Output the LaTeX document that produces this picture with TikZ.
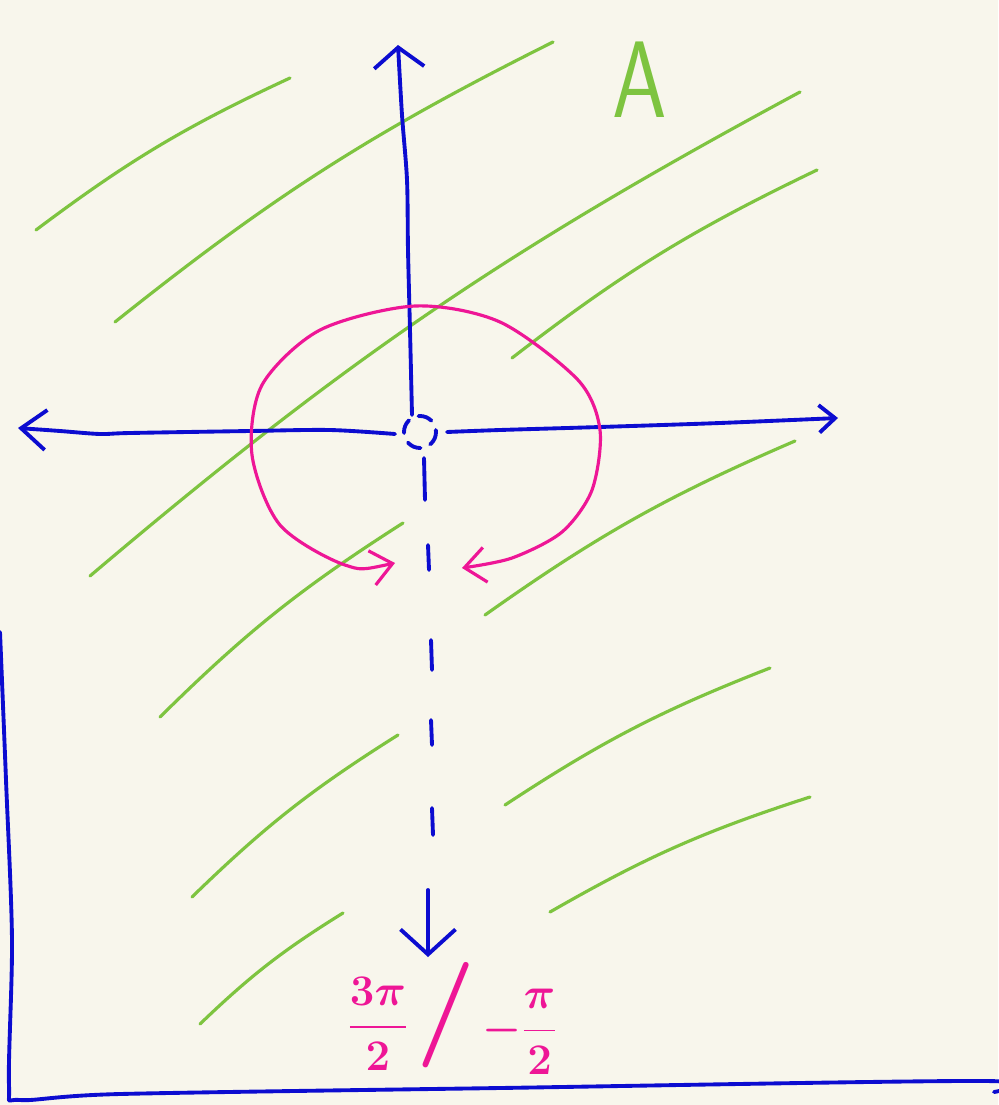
\documentclass[tikz,border=0pt]{standalone}
\usepackage{amsmath}
\usetikzlibrary{arrows.meta}
\definecolor{paper}{RGB}{248,246,236}
\definecolor{axisblue}{RGB}{12,12,208}
\definecolor{hatchgreen}{RGB}{126,196,64}
\definecolor{anglepink}{RGB}{238,22,150}

\begin{document}
\begin{tikzpicture}[x=0.02cm, y=-0.02cm,
  inkline/.style={line cap=round, line join=round},
  axisline/.style={inkline, axisblue, line width=2.2pt},
  hatchline/.style={inkline, hatchgreen, line width=1.8pt},
  turnline/.style={inkline, anglepink, line width=1.8pt},
  label/.style={anglepink, font=\fontsize{31}{36}\selectfont\boldmath},
]
  \fill[paper] (0,0) rectangle (998,1105);
  \useasboundingbox (0,0) rectangle (998,1105);

  % shaded region A
  \foreach \xa/\ya/\xb/\yb in {36/230/290/78, 115/322/553/42, 90/576/800/92,
      512/358/817/170, 485/615/795/441, 160/717/403/523, 192/897/398/735,
      505/805/770/668, 550/912/810/797, 200/1024/343/913}
    \draw[hatchline] (\xa,\ya) to[bend left=6] (\xb,\yb);
  \node[hatchgreen, font=\fontsize{62}{62}\selectfont\sffamily, xscale=0.8] (regionA) at (640,80) {A};

  \coordinate (origin) at (420,432);
  \coordinate (ytop) at (398,45);
  \coordinate (xleft) at (18,428);
  \coordinate (xright) at (838,418);
  \coordinate (ydown) at (428,957);
  \coordinate (turnstart) at (395,563);
  \coordinate (turnend) at (462,568);

  % axes
  \draw[axisline, -{Straight Barb[length=0.4cm,width=1.0cm]}] plot[smooth] coordinates
    {(412,415) (410,330) (408,250) (407,180) (402,115) (ytop)};
  \draw[axisline, {Straight Barb[length=0.5cm,width=0.8cm]}-] plot[smooth] coordinates
    {(xleft) (60,431) (100,434) (130,433) (250,431) (330,430) (395,434)};
  \draw[axisline, -{Straight Barb[length=0.32cm,width=0.55cm]}] plot[smooth] coordinates
    {(447,432) (500,430) (600,427) (720,423) (xright)};
  \draw[axisline, dash pattern=on 8pt off 6pt] (origin) circle[radius=16];
  \foreach \x/\ya/\yb in {424/458/500, 428/545/570, 431/640/670, 431/720/745, 432/808/835}
    \draw[axisline] (\x,\ya) -- (\x+1,\yb);
  \draw[axisline, -{Straight Barb[length=0.5cm,width=1.1cm]}] (428,890) -- (ydown);

  % frame
  \draw[axisline] plot[smooth] coordinates
    {(0,632) (6,780) (12,940) (9,1085) (20,1100) (120,1094) (500,1088) (985,1081) (994,1092)};

  % rotation
  \draw[turnline, {Straight Barb[length=0.42cm,width=0.7cm]}-{Straight Barb[length=0.42cm,width=0.7cm]}]
    plot[smooth] coordinates {(turnstart) (345,565) (280,525) (252,455) (262,385) (320,330)
      (415,306) (500,322) (578,380) (600,430) (592,490) (562,532) (512,558) (turnend)};

  \node[label] (threehalves) at (378,1024) {$\dfrac{3\pi}{2}$};
  \node[anglepink, font=\fontsize{60}{60}\selectfont\bfseries] (slash) at (446,1015) {/};
  \node[label] (neghalf) at (520,1032) {$-\dfrac{\pi}{2}$};
\end{tikzpicture}
\end{document}
